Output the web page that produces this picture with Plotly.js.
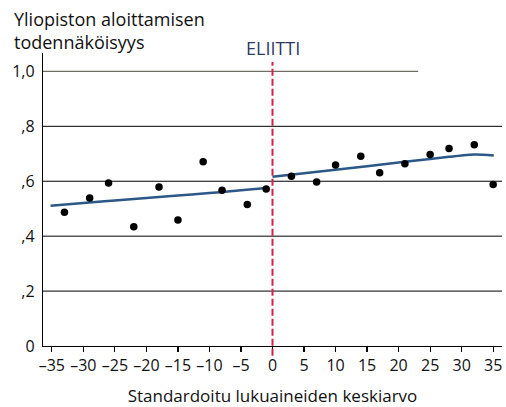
<!DOCTYPE html>
<html>
<head>
<meta charset="utf-8">
<script src="https://cdn.plot.ly/plotly-3.0.1.min.js"></script>
<style>html,body{margin:0;padding:0;background:#fff;}#chart{width:506px;height:407px;}</style>
</head>
<body>
<div id="chart"></div>
<script>
// Scatter points (standardized GPA vs probability)
const pointX = [-33, -29, -26, -22, -18, -15, -11, -8, -4, -1, 3, 7, 10, 14, 17, 21, 25, 28, 32, 35];
const pointY = [0.487, 0.539, 0.594, 0.434, 0.579, 0.459, 0.671, 0.567, 0.515, 0.572,
                0.618, 0.597, 0.659, 0.691, 0.631, 0.664, 0.697, 0.719, 0.733, 0.588];
// Fitted curves left and right of the cutoff
const fitLeftX = [-35.2, -30, -25, -20, -15, -10, -5, -1];
const fitLeftY = [0.511, 0.521, 0.530, 0.539, 0.548, 0.557, 0.567, 0.575];
const fitRightX = [0, 5, 10, 15, 20, 25, 28, 30, 32, 35.1];
const fitRightY = [0.616, 0.629, 0.642, 0.655, 0.668, 0.681, 0.689, 0.694, 0.697, 0.694];
// Axis ticks
const xTickVals = [-35, -30, -25, -20, -15, -10, -5, 0, 5, 10, 15, 20, 25, 30, 35];
const xTickText = ['–35', '–30', '–25', '–20', '–15', '–10', '–5', '0', '5', '10', '15', '20', '25', '30', '35'];
const yTickVals = [0, 0.2, 0.4, 0.6, 0.8, 1.0];
const yTickText = ['0', ',2', ',4', ',6', ',8', '1,0'];
const gridVals = [0.2, 0.4, 0.6, 0.8];
const topGridVal = 1.0;
const topGridEnd = 23.1;
const cutoff = 0;

const FONT = 'Open Sans, Noto Sans, sans-serif';
const xRange = [-36.4, 36.4];
const plotTop = 53, plotH = 407 - 53 - 60.7;
const pxToPaperY = py => 1 + (plotTop - py) / plotH;

const shapes = gridVals.map(v => ({
  type: 'line', xref: 'paper', yref: 'y', x0: 0, x1: 1, y0: v, y1: v,
  line: {color: '#000', width: 1}, layer: 'below'
}));
shapes.push({type: 'line', xref: 'x', yref: 'y', x0: xRange[0], x1: topGridEnd, y0: topGridVal, y1: topGridVal,
  line: {color: '#6e6e62', width: 1.2}, layer: 'below'});
shapes.push({type: 'line', xref: 'paper', yref: 'paper',
  x0: (cutoff - xRange[0]) / (xRange[1] - xRange[0]), x1: (cutoff - xRange[0]) / (xRange[1] - xRange[0]),
  y0: -0.033, y1: 0.969,
  line: {color: '#d81e4c', width: 2, dash: '7px,3px'}});

const traces = [
  {x: fitLeftX, y: fitLeftY, mode: 'lines', line: {color: '#2b5886', width: 2.5, shape: 'spline'}, hoverinfo: 'none'},
  {x: fitRightX, y: fitRightY, mode: 'lines', line: {color: '#2b5886', width: 2.5, shape: 'spline'}, hoverinfo: 'none'},
  {x: pointX, y: pointY, mode: 'markers', marker: {color: '#000', size: 7.5}, hoverinfo: 'none'}
];

const layout = {
  width: 506, height: 407,
  margin: {l: 43, r: 4.3, t: 53, b: 60.7},
  paper_bgcolor: '#fff', plot_bgcolor: '#fff',
  showlegend: false,
  font: {family: FONT, color: '#111', size: 15},
  xaxis: {
    range: xRange, tickvals: xTickVals, ticktext: xTickText,
    showgrid: false, zeroline: false, showline: true, linecolor: '#000', linewidth: 1.2,
    ticks: 'outside', ticklen: 5, tickcolor: '#000', tickwidth: 1.2,
    tickfont: {family: FONT, size: 16, color: '#111'},
    title: {text: 'Standardoitu lukuaineiden keskiarvo', font: {family: FONT, size: 17, color: '#111'}, standoff: 20}
  },
  yaxis: {
    range: [0, 1.067], tickvals: yTickVals, ticktext: yTickText,
    showgrid: false, zeroline: false, showline: true, linecolor: '#000', linewidth: 1.2,
    ticks: '', ticklabelstandoff: 4,
    tickfont: {family: FONT, size: 16, color: '#111'}
  },
  shapes: shapes,
  annotations: [
    {text: 'Yliopiston aloittamisen<br>todennäköisyys', xref: 'paper', yref: 'paper',
     x: (12 - 43) / (506 - 43 - 4.3), xanchor: 'left', align: 'left',
     y: pxToPaperY(5), yanchor: 'top', showarrow: false,
     font: {family: FONT, size: 18, color: '#111'}},
    {text: 'ELIITTI', xref: 'x', yref: 'paper', x: cutoff, y: pxToPaperY(47.7), yanchor: 'middle', showarrow: false,
     font: {family: FONT, size: 18, color: '#2a3a62'}}
  ]
};

Plotly.newPlot('chart', traces, layout, {displayModeBar: false, staticPlot: true});
</script>
</body>
</html>
